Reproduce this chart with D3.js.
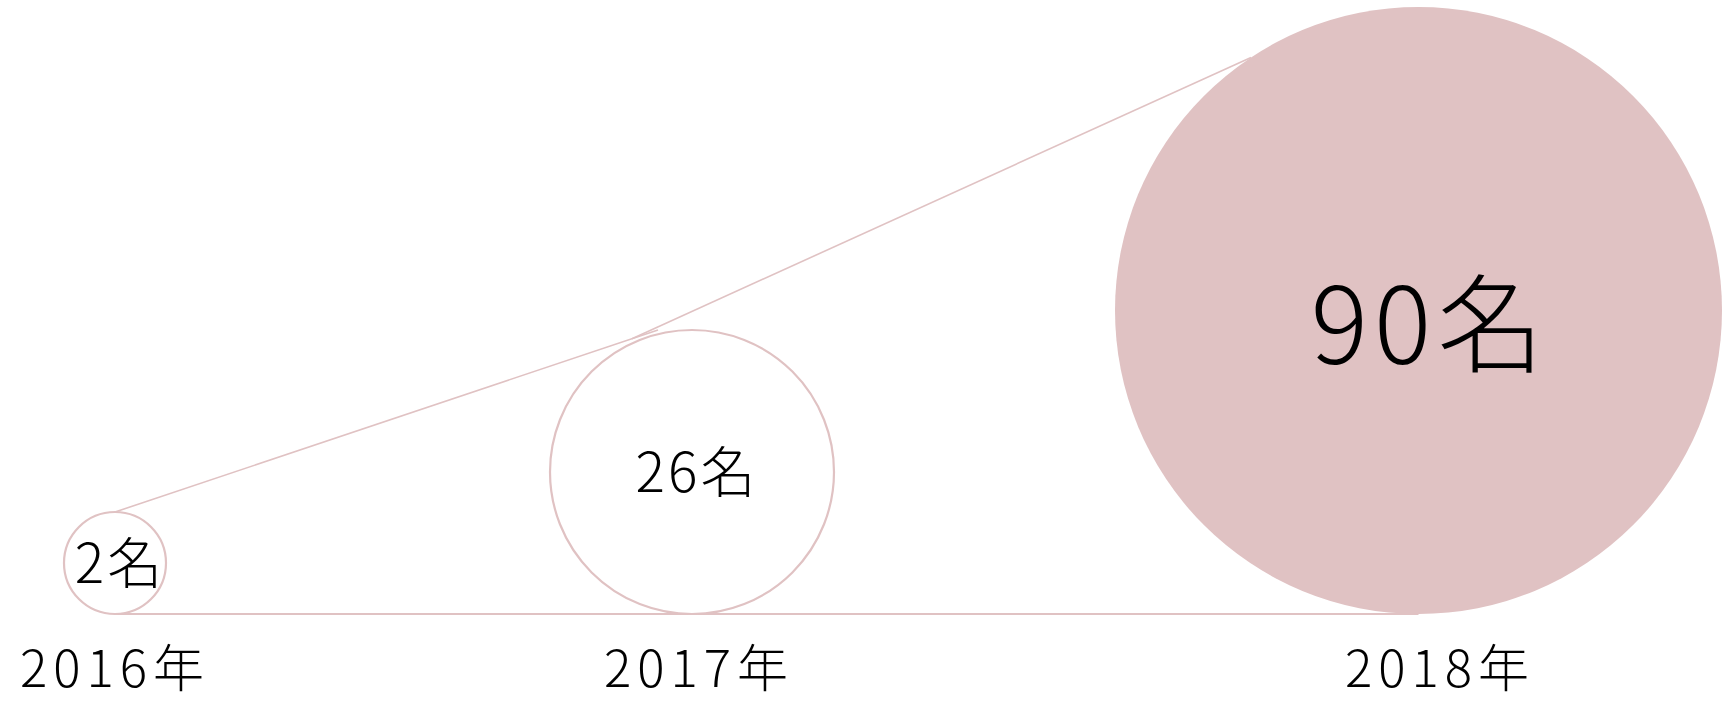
<!DOCTYPE html>
<html>
<head>
<meta charset="utf-8">
<script src="https://cdn.jsdelivr.net/npm/d3@7"></script>
<style>
body{margin:0;background:#fff;}
svg{display:block;}
text{font-family:"Noto Sans CJK JP","Noto Sans CJK SC",sans-serif;font-weight:300;fill:#000;}
</style>
</head>
<body>
<div id="wrapper"></div>
<script>
// data
const years = ["2016年", "2017年", "2018年"];
const counts = [2, 26, 90];
const unit = "名";

const pink = "#e0c2c3";

// dimension
const dimension = {width: 1724, height: 702, baseline: 614};

// scales
const xScale = d3.scaleOrdinal().domain(years).range([115, 692, 1418.5]);
const labelScale = d3.scaleOrdinal().domain(years).range([115, 699, 1440]);
const rScale = d3.scaleLinear().domain(counts).range([51, 142, 303.5]);

const svg = d3.select("#wrapper").append("svg")
  .attr("width", dimension.width).attr("height", dimension.height);

const cx = i => xScale(years[i]);
const r = i => rScale(counts[i]);
const cy = i => dimension.baseline - r(i);
// point on the circle i at angle a (degrees, 0 = right, -90 = top)
const onCircle = (i, a) => {
  const t = a * Math.PI / 180;
  return [cx(i) + r(i) * Math.cos(t), cy(i) + r(i) * Math.sin(t)];
};

// connector lines
const p0 = onCircle(0, -90);
const p1 = [cx(1) - 34, cy(1) - r(1)];
const p2 = [p0[0] + (p1[0] - p0[0]) * 0.952, p0[1] + (p1[1] - p0[1]) * 0.952];
const p3 = onCircle(2, -123.5);
const line = d3.line();
svg.append("path").attr("d", line([p0, p1])).attr("fill", "none")
  .attr("stroke", pink).attr("stroke-width", 1.6);
svg.append("path").attr("d", line([p2, p3])).attr("fill", "none")
  .attr("stroke", pink).attr("stroke-width", 1.6);
svg.append("line")
  .attr("x1", cx(0)).attr("x2", cx(2))
  .attr("y1", dimension.baseline).attr("y2", dimension.baseline)
  .attr("stroke", pink).attr("stroke-width", 2);

// bubbles
const last = counts.length - 1;
const groups = svg.selectAll("g.bubble").data(counts).enter().append("g").attr("class", "bubble");
groups.append("circle")
  .attr("cx", (d, i) => cx(i)).attr("cy", (d, i) => cy(i)).attr("r", (d, i) => r(i))
  .attr("fill", (d, i) => i === last ? pink : "#fff")
  .attr("stroke", pink).attr("stroke-width", (d, i) => i === last ? 0 : 2.2);

groups.append("text")
  .attr("x", (d, i) => cx(i) + (i === last ? 12 : 5)).attr("y", (d, i) => cy(i))
  .attr("dy", (d, i) => i === last ? "0.5em" : "0.37em")
  .attr("text-anchor", "middle")
  .attr("font-size", (d, i) => i === last ? 107 : 55)
  .attr("letter-spacing", (d, i) => i === last ? "6px" : "3px")
  .text(d => d + unit);

// year labels
svg.selectAll("text.year").data(years).enter().append("text").attr("class", "year")
  .attr("x", d => labelScale(d)).attr("y", 687)
  .attr("text-anchor", "middle")
  .attr("font-size", 51)
  .attr("letter-spacing", "6px")
  .text(d => d);
</script>
</body>
</html>
